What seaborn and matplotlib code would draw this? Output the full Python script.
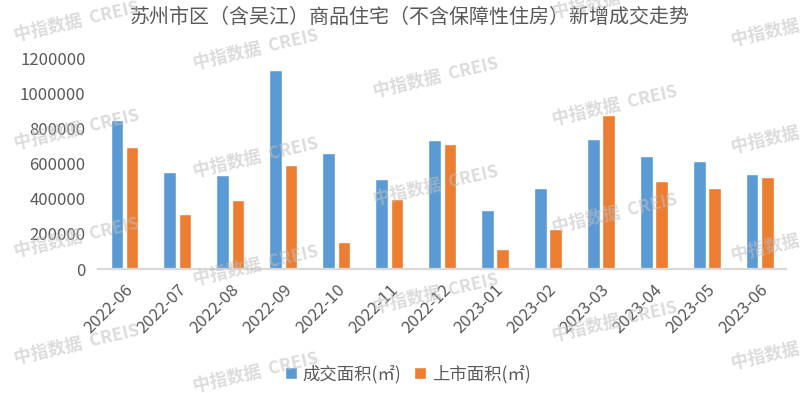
import pandas as pd
import numpy as np

import matplotlib
matplotlib.use("Agg")
import matplotlib.pyplot as plt
from matplotlib.ticker import StrMethodFormatter
from matplotlib.patches import Patch

import seaborn as sns


months = ["2022-06", "2022-07", "2022-08", "2022-09", "2022-10", "2022-11", "2022-12",
          "2023-01", "2023-02", "2023-03", "2023-04", "2023-05", "2023-06"]
deal_area = [849000, 553000, 536000, 1133000, 661000, 513000, 735000,
             337000, 462000, 741000, 644000, 616000, 542000]
listed_area = [695000, 314000, 394000, 593000, 151000, 400000, 712000,
               115000, 229000, 877000, 502000, 462000, 525000]
series_names = ["成交面积(㎡)", "上市面积(㎡)"]
title = "苏州市区（含吴江）商品住宅（不含保障性住房）新增成交走势"

colors_dict = {
    series_names[0]: "#5B9BD5",
    series_names[1]: "#ED7D31",
}

data = pd.DataFrame({
    "月份": months * 2,
    "系列": [series_names[0]] * len(months) + [series_names[1]] * len(months),
    "面积": deal_area + listed_area,
})

sns.set_style("white")
plt.rcParams["font.family"] = ["Noto Sans CJK SC", "DejaVu Sans"]

fig = plt.figure(figsize=(8.04, 3.93), dpi=100)
ax = fig.add_axes([0.1219, 0.3155, 0.978 - 0.1219, 0.8517 - 0.3155])

sns.barplot(data=data, x="月份", y="面积", hue="系列", palette=colors_dict,
            width=0.58, gap=0.18, ax=ax, legend=False, saturation=1)

ax.set_ylim(0, 1200000)
ax.set_yticks(np.arange(0, 1200001, 200000))
ax.yaxis.set_major_formatter(StrMethodFormatter("{x:.0f}"))
ax.set_xlim(-0.5, len(months) - 0.5)
ax.set_xlabel("")
ax.set_ylabel("")

for s in ["top", "right", "left"]:
    ax.spines[s].set_visible(False)
ax.spines["bottom"].set_color("#D9D9D9")
ax.spines["bottom"].set_linewidth(1.6)

ax.tick_params(axis="y", length=0, pad=9, labelsize=12, labelcolor="#595959")
ax.tick_params(axis="x", length=0, pad=9, labelsize=12, labelcolor="#595959")
for lab in ax.get_xticklabels():
    lab.set_rotation(45)
    lab.set_ha("right")
    lab.set_va("top")
    lab.set_rotation_mode("anchor")

fig.text(0.51, 0.955, title, ha="center", va="center", fontsize=14.4,
         color="#595959")

handles = [Patch(facecolor=colors_dict[n], label=n) for n in series_names]
fig.legend(handles=handles, loc="center", bbox_to_anchor=(0.507, 0.048), ncol=2,
           frameon=False, fontsize=12.5, handlelength=0.7, handleheight=0.7,
           handletextpad=0.35, columnspacing=0.7, labelcolor="#595959")

# watermark
for i in range(5):
    for j in range(-1, 4):
        xc = 77 + 179.25 * i
        yc = 22 + 28 * i + 107.7 * j
        if yc < -5 or yc > 400:
            continue
        fig.text(xc / 804, 1 - yc / 393, "中指数据  CREIS", ha="center", va="center",
                 rotation=13, fontsize=12.5, fontweight="bold", color="#bfbfbf",
                 alpha=0.55, zorder=10)

plt.savefig("out.png", dpi=100)
